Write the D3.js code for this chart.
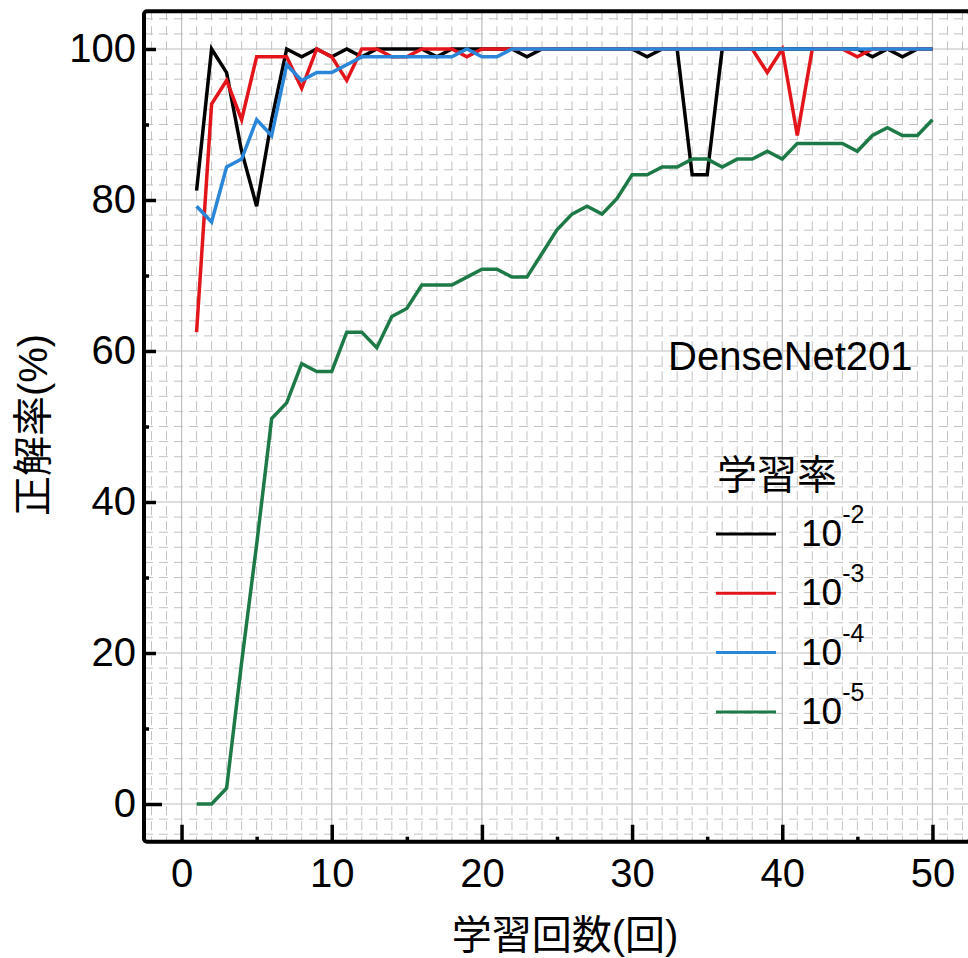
<!DOCTYPE html>
<html>
<head>
<meta charset="utf-8">
<script src="https://cdn.jsdelivr.net/npm/d3@7"></script>
<style>
  html, body { margin: 0; padding: 0; background: #fff; }
  #chart { width: 968px; height: 958px; }
  text { font-family: "Liberation Sans", Arial, "Noto Sans CJK JP", sans-serif; fill: #000; }
</style>
</head>
<body>
<div id="chart"></div>
<script>
// 学習回数 (epochs)
const epochs = [1, 2, 3, 4, 5, 6, 7, 8, 9, 10, 11, 12, 13, 14, 15, 16, 17, 18, 19, 20,
  21, 22, 23, 24, 25, 26, 27, 28, 29, 30, 31, 32, 33, 34, 35, 36, 37, 38, 39, 40,
  41, 42, 43, 44, 45, 46, 47, 48, 49, 50];

// 正解率(%) per learning rate
const acc1e2 = [81.25, 100, 96.88, 86.46, 79.17, 90.63, 100, 98.96, 100, 98.96,
  100, 98.96, 100, 100, 100, 100, 98.96, 100, 100, 100,
  100, 100, 98.96, 100, 100, 100, 100, 100, 100, 100,
  98.96, 100, 100, 83.33, 83.33, 100, 100, 100, 100, 100,
  100, 100, 100, 100, 100, 98.96, 100, 98.96, 100, 100];
const acc1e3 = [62.5, 92.71, 95.83, 90.63, 98.96, 98.96, 98.96, 94.79, 100, 98.96,
  95.83, 100, 100, 98.96, 98.96, 100, 100, 100, 98.96, 100,
  100, 100, 100, 100, 100, 100, 100, 100, 100, 100,
  100, 100, 100, 100, 100, 100, 100, 100, 96.88, 100,
  88.54, 100, 100, 100, 98.96, 100, 100, 100, 100, 100];
const acc1e4 = [79.17, 77.08, 84.38, 85.42, 90.63, 88.54, 97.92, 95.83, 96.88, 96.88,
  97.92, 98.96, 98.96, 98.96, 98.96, 98.96, 98.96, 98.96, 100, 98.96,
  98.96, 100, 100, 100, 100, 100, 100, 100, 100, 100,
  100, 100, 100, 100, 100, 100, 100, 100, 100, 100,
  100, 100, 100, 100, 100, 100, 100, 100, 100, 100];
const acc1e5 = [0, 0, 2.08, 18.75, 34.38, 51.04, 53.13, 58.33, 57.29, 57.29,
  62.5, 62.5, 60.42, 64.58, 65.63, 68.75, 68.75, 68.75, 69.79, 70.83,
  70.83, 69.79, 69.79, 72.92, 76.04, 78.13, 79.17, 78.13, 80.21, 83.33,
  83.33, 84.38, 84.38, 85.42, 85.42, 84.38, 85.42, 85.42, 86.46, 85.42,
  87.5, 87.5, 87.5, 87.5, 86.46, 88.54, 89.58, 88.54, 88.54, 90.63];

const seriesNames = ['-2', '-3', '-4', '-5'];
const seriesColors = ['#000000', '#e3151b', '#2a86d9', '#1d7a47'];

const xTicks = [0, 10, 20, 30, 40, 50];
const xMinorTicks = [5, 15, 25, 35, 45];
const yTicks = [0, 20, 40, 60, 80, 100];
const yMinorTicks = [10, 30, 50, 70, 90];

const W = 968, H = 958;
const svg = d3.select('#chart').append('svg')
  .attr('width', W)
  .attr('height', H);

const x = d3.scaleLinear().domain([-2.5, 52.5]).range([144, 970]);
const y = d3.scaleLinear().domain([-5, 105]).range([841.75, 11.25]);

// grid
const grid = svg.append('g').attr('class', 'grid');
const gx = d3.range(-2, 53, 1).filter(v => v % 10 !== 0);
const gy = d3.range(-4, 105, 2).filter(v => v % 20 !== 0);

grid.selectAll('line.vminor').data(gx).join('line')
  .attr('x1', d => x(d)).attr('x2', d => x(d))
  .attr('y1', y.range()[1]).attr('y2', y.range()[0])
  .attr('stroke', '#c2c2c2').attr('stroke-width', 1)
  .attr('stroke-dasharray', '9,6');
grid.selectAll('line.hminor').data(gy).join('line')
  .attr('x1', x.range()[0]).attr('x2', x.range()[1])
  .attr('y1', d => y(d)).attr('y2', d => y(d))
  .attr('stroke', '#c2c2c2').attr('stroke-width', 1)
  .attr('stroke-dasharray', '9,6');
grid.selectAll('line.vmajor').data(xTicks).join('line')
  .attr('x1', d => x(d)).attr('x2', d => x(d))
  .attr('y1', y.range()[1]).attr('y2', y.range()[0])
  .attr('stroke', '#bdbdbd').attr('stroke-width', 1.2);
grid.selectAll('line.hmajor').data(yTicks).join('line')
  .attr('x1', x.range()[0]).attr('x2', x.range()[1])
  .attr('y1', d => y(d)).attr('y2', d => y(d))
  .attr('stroke', '#bdbdbd').attr('stroke-width', 1.2);

// lines
const allSeries = [acc1e2, acc1e3, acc1e4, acc1e5];
const line = d3.line()
  .x((d, i) => x(epochs[i]))
  .y(d => y(d));

svg.append('g').attr('class', 'lines')
  .selectAll('path')
  .data(allSeries)
  .join('path')
  .attr('d', d => line(d))
  .attr('fill', 'none')
  .attr('stroke', (d, i) => seriesColors[i])
  .attr('stroke-width', 3.5);

// axes (ticks inward)
const yAxis = svg.append('g')
  .attr('transform', `translate(${x.range()[0]},0)`)
  .call(d3.axisLeft(y).tickValues(yTicks).tickSize(-12).tickPadding(8));
yAxis.selectAll('.tick line').attr('x2', d => d === 0 ? 18 : 12);
svg.append('g')
  .attr('transform', `translate(${x.range()[0]},0)`)
  .call(d3.axisLeft(y).tickValues(yMinorTicks).tickSize(-5).tickFormat(''));

const xAxis = svg.append('g')
  .attr('transform', `translate(0,${y.range()[0]})`)
  .call(d3.axisBottom(x).tickValues(xTicks).tickSize(-17).tickPadding(17));
svg.append('g')
  .attr('transform', `translate(0,${y.range()[0]})`)
  .call(d3.axisBottom(x).tickValues(xMinorTicks).tickSize(-5).tickFormat(''));

svg.selectAll('.domain').remove();
svg.selectAll('.tick line').attr('stroke', '#000').attr('stroke-width', 3.5);
svg.selectAll('.tick text')
  .style('font-size', '40px')
  .style('font-family', '"Liberation Sans", Arial, sans-serif')
  .attr('fill', '#000');

// frame
svg.append('rect')
  .attr('x', x.range()[0])
  .attr('y', y.range()[1])
  .attr('width', x.range()[1] - x.range()[0])
  .attr('height', y.range()[0] - y.range()[1])
  .attr('rx', 3)
  .attr('fill', 'none')
  .attr('stroke', '#000')
  .attr('stroke-width', 4);

// axis titles
svg.append('text')
  .attr('x', 565)
  .attr('y', 949)
  .attr('text-anchor', 'middle')
  .style('font-size', '40px')
  .text('学習回数(回)');

svg.append('text')
  .attr('transform', 'translate(47,425) rotate(-90)')
  .attr('text-anchor', 'middle')
  .style('font-size', '40px')
  .text('正解率(%)');

// model name
svg.append('text')
  .attr('x', 668)
  .attr('y', 370)
  .style('font-size', '40px')
  .text('DenseNet201');

// legend
const legend = svg.append('g').attr('class', 'legend');
legend.append('text')
  .attr('x', 717)
  .attr('y', 489)
  .style('font-size', '40px')
  .text('学習率');

const items = legend.selectAll('g.item')
  .data(seriesNames)
  .join('g')
  .attr('class', 'item')
  .attr('transform', (d, i) => `translate(0,${534 + i * 59.3})`);

items.append('line')
  .attr('x1', 716).attr('x2', 776)
  .attr('y1', 0).attr('y2', 0)
  .attr('stroke', (d, i) => seriesColors[i])
  .attr('stroke-width', 3);

const lbl = items.append('text')
  .attr('x', 801)
  .attr('y', 12)
  .style('font-size', '37px');
lbl.append('tspan').text('10');
lbl.append('tspan')
  .attr('dy', -23)
  .style('font-size', '25px')
  .text(d => d);
</script>
</body>
</html>
